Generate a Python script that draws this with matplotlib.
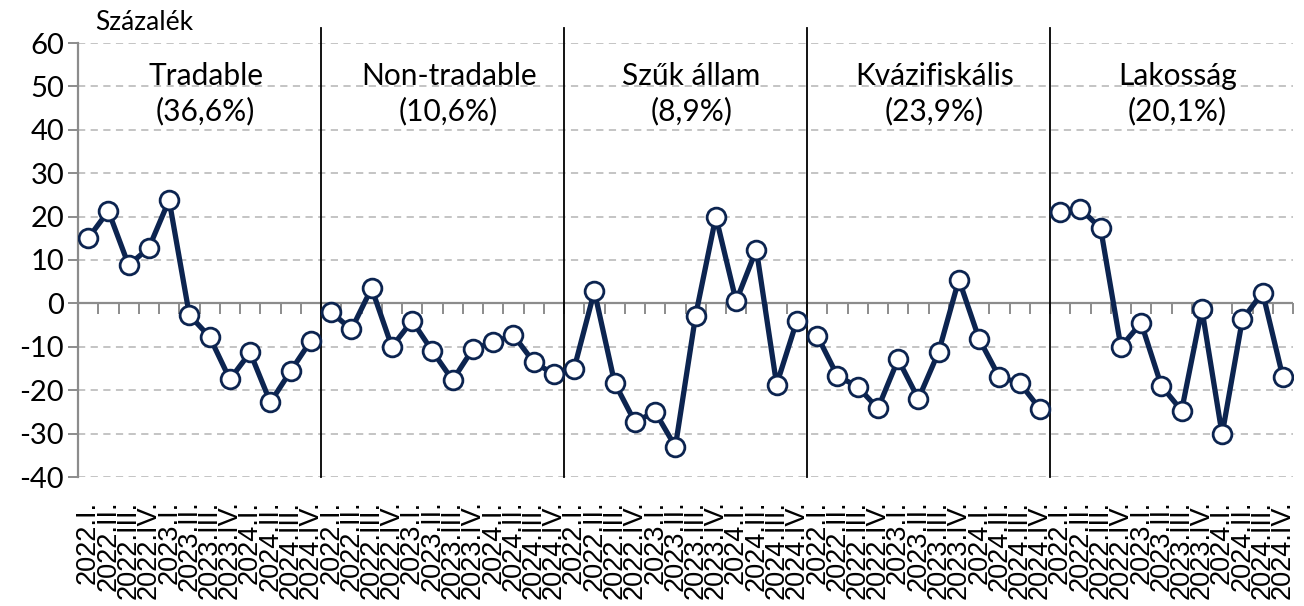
import numpy as np
import matplotlib
matplotlib.use("Agg")
import matplotlib.pyplot as plt

# panel titles and weights
groups = ["Tradable", "Non-tradable", "Szűk állam", "Kvázifiskális", "Lakosság"]
shares = ["(36,6%)", "(10,6%)", "(8,9%)", "(23,9%)", "(20,1%)"]

quarters = ["2022.I.", "2022.II.", "2022.III.", "2022.IV.",
            "2023.I.", "2023.II.", "2023.III.", "2023.IV.",
            "2024.I.", "2024.II.", "2024.III.", "2024.IV."]

tradable = [15.0, 21.3, 8.8, 12.8, 23.8, -2.7, -7.7, -17.5, -11.3, -22.8, -15.6, -8.6]
non_tradable = [-2.0, -6.0, 3.5, -10.0, -4.0, -11.0, -17.7, -10.5, -9.0, -7.3, -13.5, -16.3]
szuk_allam = [-15.0, 2.8, -18.3, -27.3, -25.0, -33.0, -2.8, 20.0, 0.5, 12.4, -18.7, -4.0]
kvazifiskalis = [-7.4, -16.7, -19.2, -24.2, -12.9, -22.0, -11.2, 5.5, -8.2, -17.0, -18.3, -24.3]
lakossag = [21.0, 21.8, 17.3, -10.0, -4.5, -19.0, -24.7, -1.3, -30.2, -3.7, 2.5, -17.0]

series = [tradable, non_tradable, szuk_allam, kvazifiskalis, lakossag]

navy = "#0C2450"
grey = "#8C8C8C"
calibri_like = ["Lato", "DejaVu Sans"]
arial_like = ["Liberation Sans", "DejaVu Sans"]

fig = plt.figure(figsize=(13.04, 6.06), dpi=100)
ax = fig.add_axes([78 / 1304, 1 - 477 / 606, 1215 / 1304, 434 / 606])

n = len(quarters)
for g, vals in enumerate(series):
    x = np.arange(n) + g * n
    ax.plot(x, vals, color=navy, lw=3.8, marker="o", ms=13.5,
            mfc="white", mec=navy, mew=2.0, solid_capstyle="round", zorder=3)
    # separators
    if g > 0:
        ax.plot([g * n - 0.5] * 2, [-40, 63.5], color="black", lw=1.3,
                clip_on=False, zorder=2)
    ax.text(g * n + (n - 1) / 2 + 0.3, 52.5, groups[g], ha="center", va="center",
            fontsize=21.5, family=calibri_like)
    ax.text(g * n + (n - 1) / 2 + 0.3, 44.3, shares[g], ha="center", va="center",
            fontsize=21.5, family=calibri_like)

total = n * len(groups)
ax.set_xlim(-0.5, total - 0.5)
ax.set_ylim(-40, 60)

yt = np.arange(-40, 61, 10)
ax.set_yticks(yt)
ax.set_yticklabels([str(v) for v in yt], fontsize=21, family=calibri_like)
for v in yt:
    if v != 0:
        ax.axhline(v, color="#BFBFBF", lw=1.3, ls=(0, (4, 3)), zorder=0)
ax.axhline(0, color=grey, lw=1.6, zorder=1)

for s in ["top", "right", "bottom"]:
    ax.spines[s].set_visible(False)
ax.spines["left"].set_color(grey)
ax.spines["left"].set_linewidth(1.6)
ax.tick_params(axis="y", direction="out", length=7, width=1.4, color=grey, pad=3)

labels = quarters * len(groups)
ax.set_xticks(np.arange(total))
ax.set_xticklabels(labels, rotation=90, fontsize=19.5, family=arial_like,
                   va="top", ha="center")
ax.tick_params(axis="x", length=0, pad=17)

# category-boundary tick marks on the zero line
sec = ax.secondary_xaxis(0.4)
sec.set_xticks(np.arange(total + 1) - 0.5)
sec.tick_params(axis="x", direction="out", length=8, width=1.4, color=grey,
                labelbottom=False)
sec.spines["bottom"].set_visible(False)

fig.text(95 / 1304, 1 - 22 / 606, "Százalék", fontsize=19, family=calibri_like,
         ha="left", va="center")

fig.savefig("out.png", dpi=100)
